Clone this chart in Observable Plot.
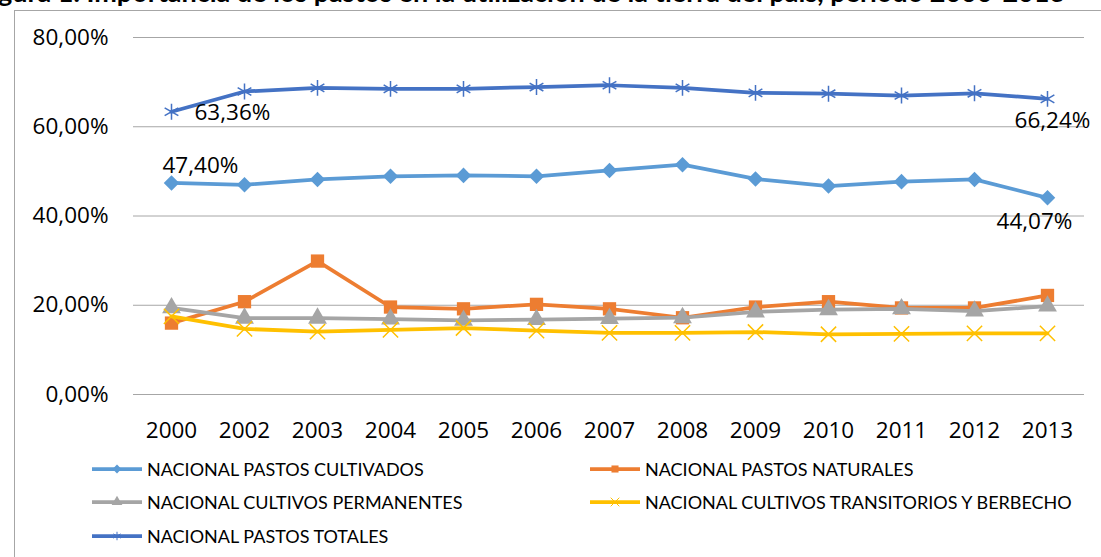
<!DOCTYPE html>
<html><head><meta charset="utf-8">
<script src="https://cdn.jsdelivr.net/npm/d3@7"></script>
<script src="https://cdn.jsdelivr.net/npm/@observablehq/plot@0.6"></script>
<style>
body{margin:0;width:1101px;height:557px;overflow:hidden;background:#fff;font-family:Lato,"Liberation Sans",sans-serif;position:relative}
#title{position:absolute;left:-24px;top:-24px;font-family:Lato,sans-serif;font-weight:bold;font-size:27px;line-height:1.2;white-space:nowrap;color:#000}
#box{position:absolute;left:14px;top:10px;width:1100px;height:560px;border:1px solid #a6a6a6;box-sizing:border-box;background:#fff}
#chart{position:absolute;left:0;top:0}
#legend{position:absolute;left:77px;top:441px;display:grid;grid-template-columns:498px 500px;grid-auto-rows:33.5px;align-items:center}
.item{display:flex;align-items:center;font-size:18px;color:#000;white-space:nowrap}
.item svg{margin-right:5px}
</style></head>
<body>
<div id="title">Figura 1. Importancia de los pastos en la utilización de la tierra del país, periodo 2000-2013</div>
<div id="box"><div id="chart"></div><div id="legend"></div></div>
<script>
const years = ["2000","2002","2003","2004","2005","2006","2007","2008","2009","2010","2011","2012","2013"];
const seriesNames = ["NACIONAL PASTOS CULTIVADOS","NACIONAL PASTOS NATURALES","NACIONAL CULTIVOS PERMANENTES","NACIONAL CULTIVOS TRANSITORIOS Y BERBECHO","NACIONAL PASTOS TOTALES"];
const pastosCultivados = [47.40,47.0,48.2,48.9,49.1,48.9,50.2,51.5,48.3,46.7,47.7,48.2,44.07];
const pastosNaturales = [16.0,20.8,29.9,19.6,19.2,20.2,19.2,17.2,19.6,20.8,19.4,19.4,22.2];
const cultivosPermanentes = [19.4,17.1,17.1,16.9,16.6,16.8,17.0,17.2,18.5,19.0,19.2,18.7,19.8];
const cultivosTransitorios = [17.5,14.7,14.1,14.5,14.9,14.3,13.8,13.8,14.0,13.5,13.6,13.7,13.7];
const pastosTotales = [63.36,67.9,68.7,68.5,68.5,68.9,69.3,68.7,67.6,67.4,67.0,67.5,66.24];
const yTicks = [0,0.2,0.4,0.6,0.8];
const colors = ["#5B9BD5","#ED7D31","#A5A5A5","#FFC000","#4472C4"];
const symbols = ["diamond2","square","triangle","times","asterisk"];
const radii = [7,7.5,7,7,7.5];
const valueArrays = [pastosCultivados,pastosNaturales,cultivosPermanentes,cultivosTransitorios,pastosTotales];

const fmt = v => (v*100).toFixed(2).replace(".", ",") + "%";
const data = [];
valueArrays.forEach((arr,i)=>arr.forEach((v,j)=>data.push({series:seriesNames[i], idx:i, year:years[j], value:v/100})));

const labels = [
  {series:0, j:0, dx:-9, dy:-17, anchor:"start"},
  {series:4, j:0, dx:23, dy:1, anchor:"start"},
  {series:4, j:12, dx:5, dy:22, anchor:"middle"},
  {series:0, j:12, dx:-13, dy:24, anchor:"middle"}
].map(l=>({...l, year:years[l.j], value:valueArrays[l.series][l.j]/100, text:fmt(valueArrays[l.series][l.j]/100)}));

const numFont = "'Open Sans', sans-serif";
const marks = [
  Plot.gridY(yTicks, {stroke:"#a6a6a6", strokeOpacity:1, strokeWidth:1})
];
seriesNames.forEach((name,i)=>{
  const d = data.filter(r=>r.idx===i);
  marks.push(Plot.line(d, {x:"year", y:"value", stroke:colors[i], strokeWidth:3.75}));
  const filled = symbols[i]!=="times" && symbols[i]!=="asterisk";
  marks.push(Plot.dot(d, {x:"year", y:"value", symbol:()=>symbols[i], r:radii[i],
    fill: filled ? colors[i] : "none", stroke: filled ? "none" : colors[i], strokeWidth:1.5}));
});
labels.forEach(l=>{
  marks.push(Plot.text([l], {x:"year", y:"value", text:"text", dx:l.dx, dy:l.dy, textAnchor:l.anchor, fontSize:22.5, fontFamily:numFont, fill:"#000"}));
});

const chart = Plot.plot({
  width:1086, height:446,
  marginLeft:118, marginRight:17, marginTop:26, marginBottom:63,
  style:{fontFamily:numFont, background:"transparent", color:"#000"},
  symbol:{type:"identity"},
  x:{type:"point", domain:years, label:null},
  y:{domain:[0,0.8], label:null},
  marks:[
    ...marks,
    Plot.axisX({tickSize:0, tickPadding:28, fontSize:22.5, fontFamily:numFont, label:null}),
    Plot.axisY(yTicks, {tickSize:0, tickPadding:25, tickFormat:fmt, fontSize:22.5, fontFamily:numFont, label:null})
  ]
});
document.getElementById("chart").appendChild(chart);

const legend = document.getElementById("legend");
const symMap = {diamond2:d3.symbolDiamond2, square:d3.symbolSquare, triangle:d3.symbolTriangle, times:d3.symbolTimes, asterisk:d3.symbolAsterisk};
[0,1,2,3,4].forEach(i=>{
  const item = document.createElement("div");
  item.className="item";
  const s = d3.create("svg").attr("width",50).attr("height",14);
  s.append("line").attr("x1",0).attr("x2",50).attr("y1",7).attr("y2",7).attr("stroke",colors[i]).attr("stroke-width",3.75);
  const filled = symbols[i]!=="times" && symbols[i]!=="asterisk";
  s.append("path").attr("transform","translate(25,7)").attr("d", d3.symbol(symMap[symbols[i]], 50)())
    .attr("fill", filled?colors[i]:"none").attr("stroke", filled?"none":colors[i]).attr("stroke-width",1);
  item.appendChild(s.node());
  const t = document.createElement("span"); t.textContent = seriesNames[i];
  item.appendChild(t);
  legend.appendChild(item);
});
</script>
</body></html>
